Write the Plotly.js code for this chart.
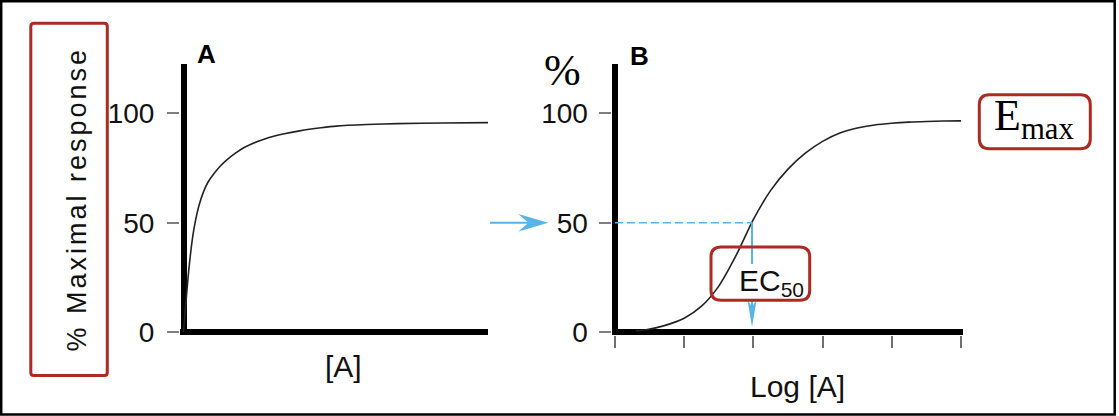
<!DOCTYPE html>
<html>
<head>
<meta charset="utf-8">
<script src="https://cdn.plot.ly/plotly-3.0.1.min.js"></script>
<style>html,body{margin:0;padding:0;background:#fff;}#chart{width:1119px;height:416px;}</style>
</head>
<body>
<div id="chart"></div>
<script>
// ---------- data ----------
// Panel A: response vs concentration (arbitrary linear units)
const concA = [0, 0.05, 0.1, 0.15, 0.2, 0.3, 0.4, 0.5, 0.65, 0.8, 1.0, 1.2, 1.4, 1.7, 2.0, 2.4, 2.8, 3.3, 3.8, 4.5, 5.0, 6.0, 7.0, 8.5, 10.0];
const respA = [0, 9, 17, 25, 32, 43.5, 51.5, 57.5, 64, 68.5, 72.5, 75.8, 78.5, 81.8, 84.5, 87, 89, 90.7, 92, 93.4, 94.2, 94.9, 95.3, 95.6, 95.8];
// Panel B: response vs log concentration (tick units)
const logA  = [0.3, 0.45, 0.7, 1.0, 1.25, 1.5, 1.75, 2.0, 2.25, 2.5, 2.75, 3.0, 3.25, 3.5, 3.75, 4.0, 4.25, 4.5, 4.75, 5.0];
const respB = [0.5, 1.0, 2.8, 6.3, 11.8, 21, 35, 51.5, 64.8, 74.5, 81.8, 87.2, 91, 93.3, 94.7, 95.5, 96, 96.3, 96.5, 96.6];
const yTickVals = [0, 50, 100];
const yTickText = ['0', '50', '100'];
const logTickVals = [0, 1, 2, 3, 4, 5];
const ec50 = 1.98;
const halfResponse = 50;

// ---------- geometry (pixels) ----------
const W = 1119, H = 416;
const fx = p => p / W;
const fy = p => 1 - p / H;
const y0px = 332, sY = 2.186;          // value 0 pixel, px per % unit
const yTopPx = 64, yBotPx = 335;
const xA0 = 183.5, sA = 30.55, xALeft = 180, xARight = 488;
const xB0 = 615, sB = 69.2, xBLeft = 611.5, xBRight = 963;
const vy = v => y0px - v * sY;       // value -> pixel y

const SANS = 'Liberation Sans, Arial, Helvetica, sans-serif';
const SERIF = 'Liberation Serif, Times New Roman, serif';
const RED = '#ad2a22';
const BLUE = '#55b4e8';

function roundRect(x0, y0, x1, y1, r) {
  const P = (x, y) => fx(x) + ',' + fy(y);
  return 'M' + P(x0 + r, y0) + ' L' + P(x1 - r, y0) + ' Q' + P(x1, y0) + ' ' + P(x1, y0 + r) +
    ' L' + P(x1, y1 - r) + ' Q' + P(x1, y1) + ' ' + P(x1 - r, y1) +
    ' L' + P(x0 + r, y1) + ' Q' + P(x0, y1) + ' ' + P(x0, y1 - r) +
    ' L' + P(x0, y0 + r) + ' Q' + P(x0, y0) + ' ' + P(x0 + r, y0) + ' Z';
}

const tickFont = {family: SANS, size: 28, color: '#111'};

const traces = [
  {x: concA, y: respA, xaxis: 'x', yaxis: 'y', mode: 'lines',
   line: {color: '#222', width: 1.6, shape: 'spline', smoothing: 0.8}, hoverinfo: 'skip'},
  {x: logA, y: respB, xaxis: 'x2', yaxis: 'y2', mode: 'lines',
   line: {color: '#222', width: 1.6, shape: 'spline', smoothing: 0.8}, hoverinfo: 'skip'}
];

const yDomain = [fy(yBotPx), fy(yTopPx)];
const yRange = [(y0px - yBotPx) / sY, (y0px - yTopPx) / sY];

const commonY = {
  domain: yDomain, range: yRange, tickmode: 'array', tickvals: yTickVals, ticktext: yTickText,
  ticks: 'outside', ticklen: 12, tickwidth: 2, tickcolor: '#808080', tickfont: tickFont,
  showgrid: false, showline: false, zeroline: true, zerolinecolor: '#000', zerolinewidth: 6,
  fixedrange: true
};

// arrow heads
const hTip = 548.3, hBack = 518.3, hNotch = 528.5, hHalf = 8.8, hY = vy(halfResponse);
const hArrowHead = 'M' + fx(hTip) + ',' + fy(hY) + ' L' + fx(hBack) + ',' + fy(hY - hHalf) +
  ' L' + fx(hNotch) + ',' + fy(hY) + ' L' + fx(hBack) + ',' + fy(hY + hHalf) + ' Z';
const vTipPx = 327, vBackPx = 300, vNotchPx = 307, vHalfPx = 4.5;
const vVal = p => (y0px - p) / sY;
const vArrowHead = 'M' + ec50 + ',' + vVal(vTipPx) +
  ' L' + (ec50 - vHalfPx / sB) + ',' + vVal(vBackPx) +
  ' L' + ec50 + ',' + vVal(vNotchPx) +
  ' L' + (ec50 + vHalfPx / sB) + ',' + vVal(vBackPx) + ' Z';

const shapes = [
  // outer frame
  {type: 'rect', xref: 'paper', yref: 'paper', x0: fx(1.2), x1: fx(1114.7), y0: fy(414.5), y1: fy(1.3),
   line: {color: '#000', width: 2.5}},
  // dashed 50% line
  {type: 'line', xref: 'x2', yref: 'y2', x0: 0, x1: ec50, y0: halfResponse, y1: halfResponse,
   line: {color: BLUE, width: 1.5, dash: '8px,4px'}},
  // vertical arrow to EC50 (interrupted behind the label text)
  {type: 'line', xref: 'x2', yref: 'y2', x0: ec50, x1: ec50, y0: halfResponse, y1: vVal(264),
   line: {color: BLUE, width: 2}},
  {type: 'line', xref: 'x2', yref: 'y2', x0: ec50, x1: ec50, y0: vVal(299), y1: vVal(vNotchPx),
   line: {color: BLUE, width: 2}},
  {type: 'path', xref: 'x2', yref: 'y2', path: vArrowHead, fillcolor: BLUE, line: {width: 0}},
  // horizontal arrow pointing to 50
  {type: 'line', xref: 'paper', yref: 'paper', x0: fx(490), x1: fx(hNotch + 2), y0: fy(hY), y1: fy(hY),
   line: {color: BLUE, width: 2}},
  {type: 'path', xref: 'paper', yref: 'paper', path: hArrowHead, fillcolor: BLUE, line: {width: 0}},
  // red boxes
  {type: 'path', xref: 'paper', yref: 'paper', path: roundRect(30.8, 23.3, 107.3, 375.5, 3), line: {color: RED, width: 3}},
  {type: 'path', xref: 'paper', yref: 'paper', path: roundRect(979.3, 94.7, 1090.3, 148.7, 10), line: {color: RED, width: 3}},
  {type: 'path', xref: 'paper', yref: 'paper', path: roundRect(711, 247, 809.7, 300.3, 10), line: {color: RED, width: 3}}
];

function ann(text, px, py, font, extra) {
  return Object.assign({text: text, xref: 'paper', yref: 'paper', x: fx(px), y: fy(py),
    xanchor: 'center', yanchor: 'middle', showarrow: false, font: font}, extra || {});
}

const annotations = [
  ann('A', 206.5, 54, {family: SANS, size: 26, weight: 700, color: '#000'}),
  ann('B', 639, 55.5, {family: SANS, size: 26, weight: 700, color: '#000'}),
  ann('%', 562, 70.5, {family: SERIF, size: 44, color: '#000'}),
  ann('E<sub>max</sub>', 1034, 118.5, {family: SERIF, size: 44, color: '#000'}),
  ann('EC<sub>50</sub>', 771.5, 282, {family: SANS, size: 30, color: '#111'}),
  ann('[A]', 343.5, 366.5, {family: SANS, size: 30, color: '#111'}),
  ann('Log [A]', 797, 386, {family: SANS, size: 30, color: '#111'}),
  ann('<span style="letter-spacing:3px">% Maximal response</span>', 76, 199.5,
      {family: SANS, size: 27, color: '#111'}, {textangle: -90})
];

const layout = {
  width: W, height: H, autosize: false,
  margin: {l: 0, r: 0, t: 0, b: 0, pad: 0},
  paper_bgcolor: '#fff', plot_bgcolor: 'rgba(0,0,0,0)',
  showlegend: false, hovermode: false,
  xaxis: {domain: [fx(xALeft), fx(xARight)], range: [(xALeft - xA0) / sA, (xARight - xA0) / sA],
    anchor: 'y', ticks: '', showticklabels: false, showgrid: false, showline: false,
    zeroline: true, zerolinecolor: '#000', zerolinewidth: 6, fixedrange: true},
  yaxis: Object.assign({anchor: 'x', ticklabelstandoff: 7}, commonY),
  xaxis2: {domain: [fx(xBLeft), fx(xBRight)], range: [(xBLeft - xB0) / sB, (xBRight - xB0) / sB],
    anchor: 'y2', tickmode: 'array', tickvals: logTickVals, ticks: 'outside', ticklen: 12, tickwidth: 2,
    tickcolor: '#707070', showticklabels: false, showgrid: false, showline: false,
    zeroline: true, zerolinecolor: '#000', zerolinewidth: 6, fixedrange: true},
  yaxis2: Object.assign({anchor: 'x2', ticklabelstandoff: 5}, commonY),
  shapes: shapes,
  annotations: annotations
};

Plotly.newPlot('chart', traces, layout, {displayModeBar: false, staticPlot: true});
</script>
</body>
</html>
